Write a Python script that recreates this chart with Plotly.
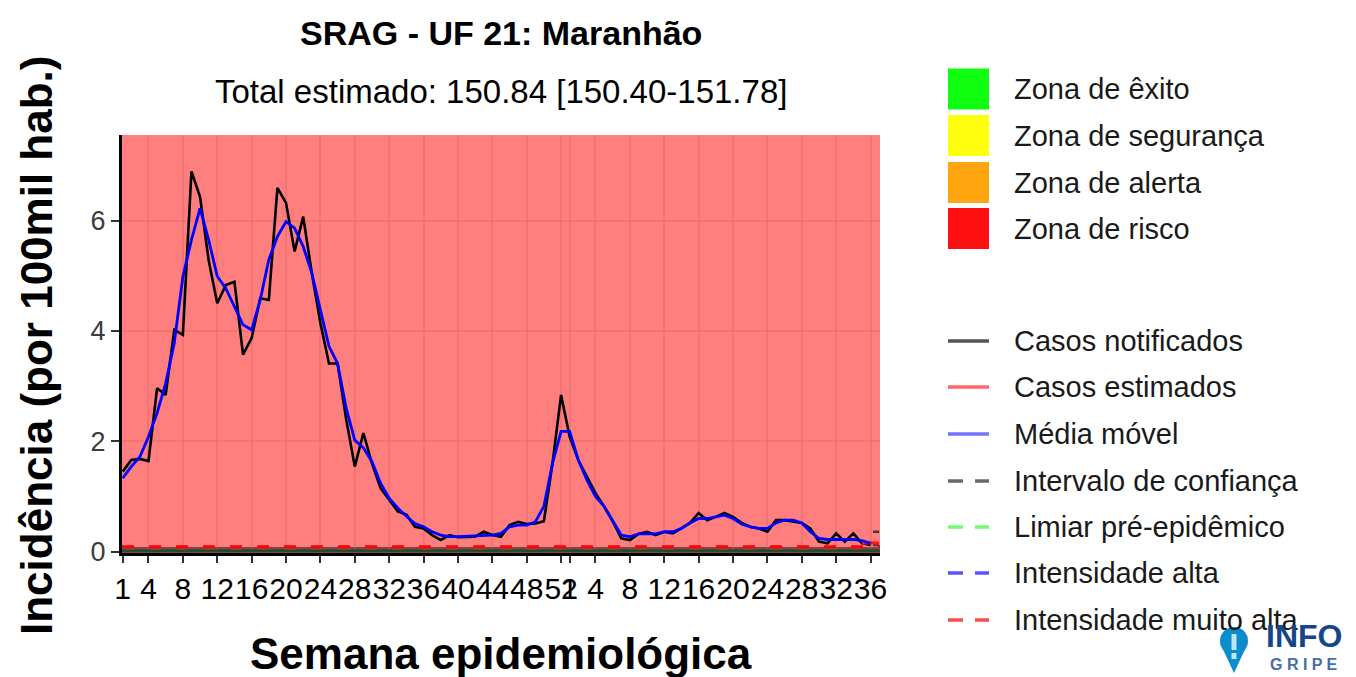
import plotly.graph_objects as go

# ---------------- data ----------------
weeks_year1 = list(range(1, 53))
weeks_year2 = list(range(1, 38))

casos_notificados = [
    1.45, 1.66, 1.68, 1.64, 2.96, 2.84, 4.02, 3.93, 6.89, 6.43,
    5.28, 4.50, 4.83, 4.89, 3.57, 3.87, 4.59, 4.56, 6.59, 6.32,
    5.44, 6.07, 5.05, 4.14, 3.41, 3.41, 2.40, 1.54, 2.15, 1.60,
    1.15, 0.94, 0.73, 0.67, 0.45, 0.42, 0.30, 0.21, 0.30, 0.26,
    0.27, 0.27, 0.36, 0.30, 0.27, 0.48, 0.54, 0.50, 0.51, 0.55,
    1.60, 2.84, 2.08, 1.66, 1.36, 1.06, 0.82, 0.55, 0.24, 0.21,
    0.32, 0.36, 0.30, 0.36, 0.33, 0.42, 0.52, 0.70, 0.57, 0.63,
    0.70, 0.63, 0.52, 0.45, 0.42, 0.36, 0.57, 0.57, 0.55, 0.52,
    0.42, 0.18, 0.15, 0.33, 0.18, 0.33, 0.15, 0.12,
]

media_movel = [
    1.33, 1.54, 1.72, 2.08, 2.51, 3.05, 3.78, 4.98, 5.65, 6.22,
    5.65, 4.99, 4.77, 4.44, 4.11, 4.02, 4.56, 5.29, 5.71, 5.98,
    5.86, 5.53, 5.05, 4.38, 3.72, 3.41, 2.60, 2.02, 1.88, 1.63,
    1.24, 0.97, 0.79, 0.64, 0.51, 0.45, 0.36, 0.30, 0.27, 0.27,
    0.28, 0.28, 0.29, 0.30, 0.33, 0.45, 0.48, 0.48, 0.54, 0.82,
    1.60, 2.18, 2.18, 1.66, 1.30, 1.00, 0.82, 0.55, 0.30, 0.27,
    0.32, 0.32, 0.32, 0.36, 0.36, 0.42, 0.52, 0.60, 0.60, 0.63,
    0.66, 0.60, 0.50, 0.45, 0.42, 0.42, 0.52, 0.57, 0.57, 0.52,
    0.36, 0.24, 0.22, 0.22, 0.22, 0.22, 0.20, 0.15,
]

# last weeks: nowcast estimate and its confidence interval
estimado_idx = [86, 87, 88]
casos_estimados = [0.15, 0.16, 0.15]
ic_idx = [87.3, 88]
ic_inferior = [0.12, 0.12]
ic_superior = [0.36, 0.36]

limiar_pre_epidemico = 0.015
intensidade_alta = 0.05
intensidade_muito_alta = 0.09

tick_weeks_year1 = [1, 4, 8, 12, 16, 20, 24, 28, 32, 36, 40, 44, 48, 52]
tick_weeks_year2 = [1, 4, 8, 12, 16, 20, 24, 28, 32, 36]

title_text = "SRAG - UF 21: Maranhão"
subtitle_text = "Total estimado: 150.84 [150.40-151.78]"
zone_labels = ["Zona de êxito", "Zona de segurança", "Zona de alerta", "Zona de risco"]
line_labels = ["Casos notificados", "Casos estimados", "Média móvel",
               "Intervalo de confiança", "Limiar pré-epidêmico",
               "Intensidade alta", "Intensidade muito alta"]

# ---------------- derived ----------------
n1 = len(weeks_year1)
x_all = list(range(n1 + len(weeks_year2)))
x_notif = x_all[:len(casos_notificados)]
x_mm = x_all[:len(media_movel)]
tickvals = [w - 1 for w in tick_weeks_year1] + [n1 + w - 1 for w in tick_weeks_year2]
ticktext = [str(w) for w in tick_weeks_year1] + [str(w) for w in tick_weeks_year2]

FONT = "Liberation Sans, Arial, sans-serif"
Y_MIN, Y_MAX = -0.025, 7.55
X_MIN, X_MAX = -0.08, 88.1

# page offset of the figure (body margin)
OFF = 8
# plot area in page pixels
L, R, T, B = 122, 880, 135, 553
W, H = 1356 - OFF, 677 - OFF


def px(xp):
    return (xp - L) / (R - L)


def py(yp):
    return (B - yp) / (B - T)


fig = go.Figure()

# threshold lines
fig.add_trace(go.Scatter(x=[X_MIN, X_MAX], y=[limiar_pre_epidemico] * 2, mode="lines",
                         line=dict(color="rgb(28,78,48)", width=3), hoverinfo="skip", showlegend=False))
fig.add_trace(go.Scatter(x=[X_MIN, X_MAX], y=[intensidade_alta] * 2, mode="lines",
                         line=dict(color="rgba(150,70,90,0.6)", width=2, dash="12px,15px"),
                         hoverinfo="skip", showlegend=False))
fig.add_trace(go.Scatter(x=[X_MIN, X_MAX], y=[intensidade_muito_alta] * 2, mode="lines",
                         line=dict(color="rgb(255,0,0)", width=3, dash="12px,15px"),
                         hoverinfo="skip", showlegend=False))

# confidence interval
for ic in (ic_inferior, ic_superior):
    fig.add_trace(go.Scatter(x=ic_idx, y=ic, mode="lines",
                             line=dict(color="rgb(60,60,60)", width=2.5),
                             hoverinfo="skip", showlegend=False))

# notified cases
fig.add_trace(go.Scatter(x=x_notif, y=casos_notificados, mode="lines",
                         line=dict(color="black", width=2.6), showlegend=False))
# estimated cases
fig.add_trace(go.Scatter(x=estimado_idx, y=casos_estimados, mode="lines",
                         line=dict(color="rgb(255,20,20)", width=3), showlegend=False))
# moving average
fig.add_trace(go.Scatter(x=x_mm, y=media_movel, mode="lines",
                         line=dict(color="rgb(0,0,255)", width=2.8), showlegend=False))

shapes = []
# risk zone background
shapes.append(dict(type="rect", xref="x", yref="y", x0=X_MIN, x1=X_MAX,
                   y0=intensidade_muito_alta, y1=Y_MAX, fillcolor="rgba(255,0,0,0.5)",
                   line=dict(width=0), layer="below"))
shapes.append(dict(type="rect", xref="x", yref="y", x0=X_MIN, x1=X_MAX,
                   y0=Y_MIN, y1=intensidade_muito_alta, fillcolor="rgb(150,60,60)",
                   line=dict(width=0), layer="below"))

annotations = []
# legend: zones
zone_colors = ["rgb(16,255,16)", "rgb(255,255,16)", "rgb(255,165,16)", "rgb(255,16,16)"]
zone_y = [89, 135.5, 182.5, 228.5]
for c, yc, lab in zip(zone_colors, zone_y, zone_labels):
    shapes.append(dict(type="rect", xref="paper", yref="paper",
                       x0=px(948), x1=px(989), y0=py(yc + 20.5), y1=py(yc - 20.5),
                       fillcolor=c, line=dict(width=0)))
    annotations.append(dict(text=lab, xref="paper", yref="paper", x=px(1012), y=py(yc),
                            xanchor="left", yanchor="middle", showarrow=False,
                            font=dict(family=FONT, size=29, color="#1a1a1a")))

# legend: lines
line_colors = ["rgb(85,85,85)", "rgb(255,105,105)", "rgb(115,115,255)",
               "rgb(105,105,105)", "rgb(110,255,110)", "rgb(85,85,255)", "rgb(255,75,75)"]
line_dash = [False, False, False, True, True, True, True]
line_y = [341, 387, 434, 481, 527, 573, 620]
for c, d, yc, lab in zip(line_colors, line_dash, line_y, line_labels):
    if d:
        for a, b in ((948, 963), (975, 989)):
            shapes.append(dict(type="line", xref="paper", yref="paper",
                               x0=px(a), x1=px(b), y0=py(yc), y1=py(yc),
                               line=dict(color=c, width=3.5)))
    else:
        shapes.append(dict(type="line", xref="paper", yref="paper",
                           x0=px(948), x1=px(989), y0=py(yc), y1=py(yc),
                           line=dict(color=c, width=3.5)))
    annotations.append(dict(text=lab, xref="paper", yref="paper", x=px(1012), y=py(yc),
                            xanchor="left", yanchor="middle", showarrow=False,
                            font=dict(family=FONT, size=29, color="#1a1a1a")))

# titles
annotations.append(dict(text="<b>" + title_text + "</b>", xref="paper", yref="paper",
                        x=px(501), y=py(33), xanchor="center", yanchor="middle", showarrow=False,
                        font=dict(family=FONT, size=34, color="black")))
annotations.append(dict(text=subtitle_text, xref="paper", yref="paper",
                        x=px(501), y=py(92), xanchor="center", yanchor="middle", showarrow=False,
                        font=dict(family=FONT, size=33, color="black")))
annotations.append(dict(text="<b>Semana epidemiológica</b>", xref="paper", yref="paper",
                        x=px(501), y=py(653), xanchor="center", yanchor="middle", showarrow=False,
                        font=dict(family=FONT, size=44, color="black")))
annotations.append(dict(text="<b>Incidência (por 100mil hab.)</b>", xref="paper", yref="paper",
                        x=px(36), y=py(346), xanchor="center", yanchor="middle", showarrow=False,
                        textangle=-90, font=dict(family=FONT, size=44, color="black")))

# InfoGripe logo
shapes.append(dict(type="path", xref="paper", yref="paper",
                   path="M {},{} L {},{} L {},{} Z".format(px(1221), py(645), px(1247), py(645),
                                                             px(1234), py(673)),
                   fillcolor="rgb(10,140,205)", line=dict(width=0)))
shapes.append(dict(type="circle", xref="paper", yref="paper",
                   x0=px(1220), x1=px(1248), y0=py(655), y1=py(627),
                   fillcolor="rgb(10,140,205)", line=dict(width=0)))
shapes.append(dict(type="rect", xref="paper", yref="paper",
                   x0=px(1231.5), x1=px(1236.5), y0=py(650), y1=py(634),
                   fillcolor="rgb(190,230,250)", line=dict(width=0)))
shapes.append(dict(type="rect", xref="paper", yref="paper",
                   x0=px(1231.5), x1=px(1236.5), y0=py(659), y1=py(653),
                   fillcolor="rgb(190,230,250)", line=dict(width=0)))
annotations.append(dict(text="<b>INFO</b>", xref="paper", yref="paper",
                        x=px(1304), y=py(636), xanchor="center", yanchor="middle", showarrow=False,
                        font=dict(family=FONT, size=32, color="rgb(20,70,140)")))
annotations.append(dict(text="<b>G R I P E</b>", xref="paper", yref="paper",
                        x=px(1304), y=py(664), xanchor="center", yanchor="middle", showarrow=False,
                        font=dict(family=FONT, size=16, color="rgb(70,110,165)")))

fig.update_layout(
    width=W, height=H, autosize=False,
    margin=dict(l=L - OFF, r=W - (R - OFF), t=T - OFF, b=H - (B - OFF), pad=0),
    paper_bgcolor="white", plot_bgcolor="white",
    shapes=shapes, annotations=annotations, showlegend=False,
)
fig.update_xaxes(range=[X_MIN, X_MAX], tickvals=tickvals, ticktext=ticktext, tickangle=0,
                 showgrid=True, gridcolor="rgba(220,90,90,0.3)", gridwidth=2,
                 zeroline=False, showline=True, linecolor="black", linewidth=3,
                 ticks="outside", ticklen=7, tickwidth=2, tickcolor="rgb(50,50,50)",
                 tickfont=dict(family=FONT, size=30, color="black"))
fig.update_yaxes(range=[Y_MIN, Y_MAX], tickvals=[0, 2, 4, 6], showgrid=True,
                 gridcolor="rgba(220,90,90,0.3)", gridwidth=2, zeroline=False,
                 showline=True, linecolor="black", linewidth=3,
                 ticks="outside", ticklen=8, tickwidth=2, tickcolor="rgb(50,50,50)",
                 tickfont=dict(family=FONT, size=27, color="rgb(60,60,60)"))

fig.write_html("out.html")
